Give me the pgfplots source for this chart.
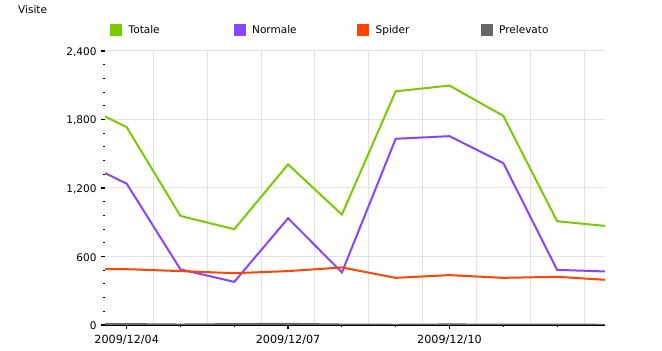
\documentclass[border=0pt]{standalone}
\usepackage{fontspec}
\setmainfont{DejaVu Sans}
\usepackage{pgfplots}
\pgfplotsset{compat=1.18}
\definecolor{cTot}{HTML}{77CC00}
\definecolor{cNor}{HTML}{8844FF}
\definecolor{cSpi}{HTML}{FF4400}
\definecolor{cPre}{HTML}{666666}
\definecolor{gridc}{HTML}{E2E2E2}
\newcommand{\ff}{\fontsize{10.5bp}{12.6bp}\selectfont}
\newcommand{\fx}{\fontsize{11.2bp}{13bp}\selectfont}
\begin{document}
\begin{tikzpicture}
\path[use as bounding box] (0,0) rectangle (662bp,351bp);
\begin{axis}[
  at={(105bp,26bp)}, anchor=south west,
  scale only axis, width=500bp, height=274bp,
  xmin=3.597, xmax=12.89, ymin=0, ymax=2400,
  axis x line*=bottom, axis y line*=left,
  x axis line style={-, line width=2bp, black},
  y axis line style={draw=none},
  tick align=outside,
  major tick length=4bp, minor tick length=2bp,
  tick style={black},
  every major tick/.append style={line width=1.6bp},
  every minor tick/.append style={line width=1bp},
  xtick={4,7,10}, xticklabels={2009/12/04,2009/12/07,2009/12/10},
  minor xtick={5,6,8,9,11,12},
  extra x ticks={4.5,5.5,...,12.5}, extra x tick labels={},
  extra x tick style={xmajorgrids=true, major tick length=0pt},
  ytick={0,600,1200,1800,2400}, minor y tick num=4,
  ymajorgrids=true,
  major grid style={gridc, line width=1bp},
  /pgf/number format/1000 sep={,},
  /pgf/number format/assume math mode=true,
  tick label style={font=\ff, black},
  xticklabel style={yshift=-3bp, font=\fx},
  yticklabel style={xshift=-1bp, yshift=-1bp},
  ylabel={Visite},
  ylabel style={rotate=-90, at={(axis description cs:-0.174,1.152)}, anchor=west, inner sep=0pt, font=\ff},
  legend columns=4,
  legend image code/.code={\fill[#1] (0bp,-5bp) rectangle (10bp,5bp);},
  legend style={at={(axis description cs:0.01,1.0766)}, anchor=west, draw=none, fill=none, inner sep=0pt, font=\ff,
    nodes={inner sep=0pt, anchor=west},
    /tikz/every odd column/.append style={column sep=6.5bp}},
  every axis plot/.append style={line width=2bp},
]
\addplot[color=cTot] coordinates {(3.597,1826) (4,1733) (5,955) (6,839) (7,1407) (8,967) (9,2047) (10,2097) (11,1832) (12,909) (12.89,868)};
\addlegendentry{\makebox[105bp][l]{Totale}}
\addplot[color=cNor] coordinates {(3.597,1331) (4,1238) (5,487) (6,378) (7,935) (8,460) (9,1631) (10,1654) (11,1418) (12,483) (12.89,469)};
\addlegendentry{\makebox[105bp][l]{Normale}}
\addplot[color=cSpi] coordinates {(3.597,489) (4,489) (5,472) (6,454) (7,472) (8,504) (9,413) (10,437) (11,413) (12,422) (12.89,396)};
\addlegendentry{\makebox[105bp][l]{Spider}}
\addplot[color=cPre] coordinates {(3.597,8) (4,8) (5,4) (6,8) (7,10) (8,4) (9,2) (10,5) (11,3) (12,3) (12.89,2)};
\addlegendentry{\makebox[105bp][l]{Prelevato}}
\end{axis}
\end{tikzpicture}
\end{document}
